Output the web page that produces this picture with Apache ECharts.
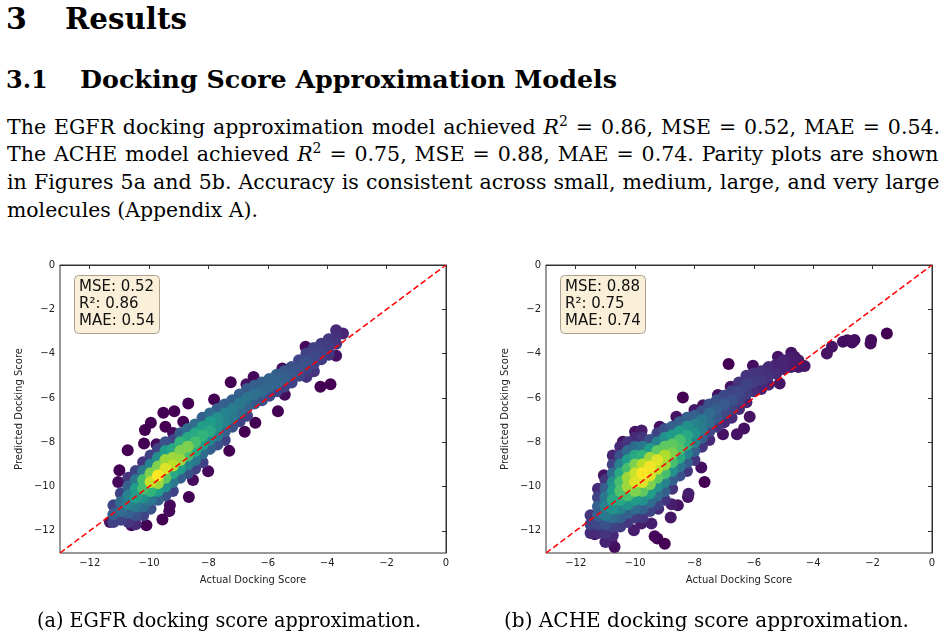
<!DOCTYPE html>
<html>
<head>
<meta charset="utf-8">
<script src="https://cdn.jsdelivr.net/npm/echarts@6/dist/echarts.min.js"></script>
<style>
  body { margin: 0; background: #fff; }
  #page { position: relative; width: 947px; height: 637px; overflow: hidden; color: #000; }
  .t { position: absolute; white-space: nowrap; font-family: "DejaVu Serif", serif; line-height: 1; transform-origin: 0 0; display: inline-block; }
  .h1 { font-size: 30px; font-weight: bold; }
  .h2 { font-size: 24px; font-weight: bold; }
  .body { font-size: 20.5px; }
  sup { font-size: 0.68em; vertical-align: 0; position: relative; top: -0.55em; line-height: 0; }
  #chart { position: absolute; left: 0; top: 240px; width: 947px; height: 370px; }
</style>
</head>
<body>
<div id="page">
  <span class="t h1" style="left:6px;top:4px">3</span>
  <span class="t h1" data-w="122" style="left:65px;top:4px">Results</span>
  <span class="t h2" style="left:6px;top:68px">3.1</span>
  <span class="t h2" data-w="537" style="left:80px;top:68px">Docking Score Approximation Models</span>

  <span class="t body" data-w="933" data-fit="justify" style="left:7px;top:117px">The EGFR docking approximation model achieved <i>R</i><sup>2</sup> = 0.86, MSE = 0.52, MAE = 0.54.</span>
  <span class="t body" data-w="933" data-fit="justify" style="left:7px;top:144px">The ACHE model achieved <i>R</i><sup>2</sup> = 0.75, MSE = 0.88, MAE = 0.74.  Parity plots are shown</span>
  <span class="t body" data-w="933" data-fit="justify" style="left:7px;top:172px">in Figures 5a and 5b.  Accuracy is consistent across small, medium, large, and very large</span>
  <span class="t body" data-w="251" style="left:7px;top:200px">molecules (Appendix A).</span>

  <div id="chart"></div>

  <span class="t body" data-w="384" style="left:37px;top:610px">(a) EGFR docking score approximation.</span>
  <span class="t body" data-w="405" style="left:504px;top:610px">(b) ACHE docking score approximation.</span>
</div>

<script>
// axis ticks shared by both parity plots
const tickValues = [-12, -10, -8, -6, -4, -2, 0];
const axisRange = [-13, 0];
const parityLine = [[-13, -13], [0, 0]];

const egfrStats = ['MSE: 0.52', 'R²: 0.86', 'MAE: 0.54'];
const acheStats = ['MSE: 0.88', 'R²: 0.75', 'MAE: 0.74'];

// [actual, predicted, density]
const egfrOutliers = [
  [-3.7, -2.95, 0.12], [-3.47, -3.09, 0.1], [-4.73, -3.69, 0.02], [-3.7, -4.1, 0.05], [-4.23, -5.5, 0],
  [-3.89, -5.38, 0], [-5.51, -4.67, 0.03], [-7.25, -5.29, 0], [-6.48, -5.06, 0.02], [-6.72, -5.38, 0.05],
  [-7.81, -6.07, 0], [-8.68, -6.25, 0], [-5.66, -6.6, 0], [-5.43, -5.86, 0.03], [-6.42, -7.12, 0],
  [-6.78, -7.53, 0], [-7.3, -8.39, 0], [-9.15, -6.6, 0], [-9.52, -6.67, 0], [-9.94, -7.12, 0],
  [-10.14, -7.45, 0], [-9.45, -7.3, 0], [-8.85, -7.08, 0], [-9.19, -7.58, 0.02], [-10.17, -8.06, 0],
  [-9.75, -8.09, 0.03], [-10.72, -8.36, 0], [-11.0, -9.26, 0], [-11.04, -9.79, 0.02], [-8.66, -10.47, 0],
  [-8.01, -9.31, 0.02], [-9.3, -10.84, 0.02], [-9.32, -11.11, 0.02], [-9.55, -11.49, 0], [-10.09, -11.75, 0],
  [-10.59, -11.75, 0.03], [-11.32, -11.6, 0.06], [-8.52, -9.71, 0.03]
];

const egfrBand = [
  [-11.2, -10.85, 0.2], [-11.2, -11.25, 0.3], [-11.2, -11.6, 0.2],
  [-10.95, -10.3, 0.2], [-10.95, -10.7, 0.35], [-10.95, -11.1, 0.35], [-10.95, -11.5, 0.2],
  [-10.7, -9.6, 0.15], [-10.7, -10.0, 0.3], [-10.7, -10.4, 0.45], [-10.7, -10.8, 0.45], [-10.7, -11.2, 0.3], [-10.7, -11.6, 0.15],
  [-10.45, -9.3, 0.2], [-10.45, -9.7, 0.4], [-10.45, -10.1, 0.55], [-10.45, -10.5, 0.55], [-10.45, -10.9, 0.4], [-10.45, -11.3, 0.25], [-10.45, -11.7, 0.12],
  [-10.2, -8.9, 0.15], [-10.2, -9.3, 0.4], [-10.2, -9.7, 0.7], [-10.2, -10.1, 0.7], [-10.2, -10.5, 0.5], [-10.2, -10.9, 0.35], [-10.2, -11.3, 0.2],
  [-9.95, -8.6, 0.2], [-9.95, -9.0, 0.45], [-9.95, -9.4, 0.8], [-9.95, -9.8, 0.92], [-9.95, -10.2, 0.65], [-9.95, -10.6, 0.4], [-9.95, -11.0, 0.25],
  [-9.7, -8.3, 0.2], [-9.7, -8.7, 0.5], [-9.7, -9.1, 0.8], [-9.7, -9.5, 1.0], [-9.7, -9.85, 0.85], [-9.7, -10.2, 0.55], [-9.7, -10.6, 0.3],
  [-9.45, -8.0, 0.25], [-9.45, -8.4, 0.55], [-9.45, -8.8, 0.85], [-9.45, -9.2, 0.95], [-9.45, -9.6, 0.75], [-9.45, -10.0, 0.5], [-9.45, -10.4, 0.25],
  [-9.2, -7.9, 0.2], [-9.2, -8.3, 0.6], [-9.2, -8.7, 0.85], [-9.2, -9.05, 0.9], [-9.2, -9.4, 0.6], [-9.2, -9.8, 0.4], [-9.2, -10.2, 0.2],
  [-8.95, -7.6, 0.3], [-8.95, -8.0, 0.65], [-8.95, -8.4, 0.8], [-8.95, -8.8, 0.85], [-8.95, -9.2, 0.55], [-8.95, -9.6, 0.3],
  [-8.7, -7.4, 0.35], [-8.7, -7.8, 0.6], [-8.7, -8.2, 0.8], [-8.7, -8.6, 0.7], [-8.7, -9.0, 0.45], [-8.7, -9.4, 0.25],
  [-8.45, -7.2, 0.35], [-8.45, -7.6, 0.6], [-8.45, -8.0, 0.7], [-8.45, -8.4, 0.6], [-8.45, -8.8, 0.4], [-8.45, -9.2, 0.2],
  [-8.2, -6.9, 0.3], [-8.2, -7.3, 0.55], [-8.2, -7.7, 0.65], [-8.2, -8.1, 0.55], [-8.2, -8.5, 0.35], [-8.2, -8.9, 0.2],
  [-7.95, -6.7, 0.35], [-7.95, -7.1, 0.55], [-7.95, -7.5, 0.6], [-7.95, -7.9, 0.45], [-7.95, -8.3, 0.3],
  [-7.7, -6.5, 0.3], [-7.7, -6.9, 0.5], [-7.7, -7.3, 0.5], [-7.7, -7.7, 0.4], [-7.7, -8.1, 0.25],
  [-7.45, -6.3, 0.3], [-7.45, -6.7, 0.45], [-7.45, -7.1, 0.45], [-7.45, -7.5, 0.3], [-7.45, -7.9, 0.2],
  [-7.2, -6.1, 0.3], [-7.2, -6.5, 0.42], [-7.2, -6.9, 0.4], [-7.2, -7.3, 0.25],
  [-6.95, -5.85, 0.3], [-6.95, -6.25, 0.4], [-6.95, -6.65, 0.35], [-6.95, -7.05, 0.2],
  [-6.7, -5.6, 0.28], [-6.7, -6.0, 0.38], [-6.7, -6.4, 0.32], [-6.7, -6.8, 0.2],
  [-6.45, -5.45, 0.3], [-6.45, -5.85, 0.36], [-6.45, -6.25, 0.28],
  [-6.2, -5.3, 0.3], [-6.2, -5.7, 0.34], [-6.2, -6.1, 0.25],
  [-5.95, -5.15, 0.32], [-5.95, -5.5, 0.33], [-5.95, -5.9, 0.22],
  [-5.7, -4.95, 0.3], [-5.7, -5.35, 0.32], [-5.7, -5.7, 0.2],
  [-5.45, -4.8, 0.28], [-5.45, -5.15, 0.3], [-5.45, -5.5, 0.2],
  [-5.2, -4.6, 0.25], [-5.2, -4.95, 0.28], [-5.2, -5.3, 0.2],
  [-4.95, -4.3, 0.22], [-4.95, -4.65, 0.26], [-4.95, -5.0, 0.22],
  [-4.7, -4.0, 0.2], [-4.7, -4.35, 0.25], [-4.7, -4.7, 0.2], [-4.7, -5.05, 0.15],
  [-4.45, -3.75, 0.2], [-4.45, -4.1, 0.22], [-4.45, -4.45, 0.2], [-4.45, -4.8, 0.15],
  [-4.2, -3.55, 0.18], [-4.2, -3.9, 0.2], [-4.2, -4.25, 0.18],
  [-3.95, -3.35, 0.16], [-3.95, -3.7, 0.18], [-3.95, -4.05, 0.15],
  [-3.7, -3.2, 0.14], [-3.7, -3.55, 0.15]
];

const acheOutliers = [
  [-1.52, -3.09, 0], [-2.05, -3.39, 0.03], [-2.07, -3.54, 0.03], [-2.61, -3.39, 0.04], [-2.69, -3.5, 0.04],
  [-2.85, -3.4, 0.04], [-3.0, -3.46, 0.04], [-3.37, -3.69, 0.05], [-3.54, -3.99, 0.05], [-4.29, -4.56, 0.06],
  [-4.63, -4.14, 0.06], [-4.74, -3.96, 0.05], [-5.19, -4.14, 0.05], [-5.13, -5.35, 0.06], [-6.03, -4.55, 0.04],
  [-6.85, -4.47, 0], [-8.39, -5.98, 0], [-7.21, -5.87, 0.04], [-6.78, -5.5, 0.05], [-5.53, -4.67, 0.08],
  [-6.21, -5.02, 0.06], [-6.14, -6.85, 0.05], [-6.33, -7.38, 0.04], [-6.57, -7.64, 0.05], [-7.04, -7.64, 0.05],
  [-7.66, -9.79, 0], [-7.77, -9.14, 0.04], [-8.22, -10.47, 0.05], [-8.56, -10.84, 0.05], [-9.0, -12.58, 0],
  [-9.25, -12.35, 0], [-9.34, -12.24, 0.02], [-10.69, -12.73, 0.04], [-10.8, -12.42, 0.05], [-11.36, -12.15, 0.05],
  [-11.05, -9.49, 0.05], [-10.41, -7.98, 0.04], [-10.0, -7.53, 0.05], [-9.17, -7.3, 0.04], [-8.61, -6.85, 0.05],
  [-8.0, -6.55, 0.06], [-7.71, -6.33, 0.05], [-9.79, -11.67, 0.08], [-9.45, -11.67, 0.08], [-10.04, -11.97, 0.08],
  [-8.77, -10.8, 0.08], [-8.8, -11.4, 0.06], [-8.2, -10.33, 0.08], [-9.22, -11.0, 0.12], [-9.78, -7.47, 0.08]
];

const acheBand = [
  [-11.5, -11.3, 0.15], [-11.5, -11.7, 0.2], [-11.5, -12.1, 0.12],
  [-11.25, -10.1, 0.12], [-11.25, -10.5, 0.2], [-11.25, -10.9, 0.3], [-11.25, -11.3, 0.3], [-11.25, -11.7, 0.22], [-11.25, -12.1, 0.12],
  [-11.0, -9.7, 0.15], [-11.0, -10.1, 0.3], [-11.0, -10.5, 0.4], [-11.0, -10.9, 0.45], [-11.0, -11.3, 0.4], [-11.0, -11.7, 0.25], [-11.0, -12.1, 0.15], [-11.0, -12.5, 0.1],
  [-10.75, -8.6, 0.1], [-10.75, -9.0, 0.2], [-10.75, -9.4, 0.35], [-10.75, -9.8, 0.5], [-10.75, -10.2, 0.55], [-10.75, -10.6, 0.6], [-10.75, -11.0, 0.5], [-10.75, -11.4, 0.35], [-10.75, -11.8, 0.2], [-10.75, -12.2, 0.12],
  [-10.5, -8.2, 0.12], [-10.5, -8.6, 0.25], [-10.5, -9.0, 0.45], [-10.5, -9.4, 0.6], [-10.5, -9.8, 0.7], [-10.5, -10.2, 0.72], [-10.5, -10.6, 0.6], [-10.5, -11.0, 0.45], [-10.5, -11.4, 0.3], [-10.5, -11.8, 0.18],
  [-10.25, -8.0, 0.15], [-10.25, -8.4, 0.35], [-10.25, -8.8, 0.55], [-10.25, -9.2, 0.7], [-10.25, -9.6, 0.85], [-10.25, -10.0, 0.85], [-10.25, -10.4, 0.7], [-10.25, -10.8, 0.5], [-10.25, -11.2, 0.3], [-10.25, -11.6, 0.15],
  [-10.0, -7.8, 0.12], [-10.0, -8.2, 0.35], [-10.0, -8.6, 0.6], [-10.0, -9.0, 0.8], [-10.0, -9.4, 0.92], [-10.0, -9.8, 0.95], [-10.0, -10.2, 0.8], [-10.0, -10.6, 0.55], [-10.0, -11.0, 0.35], [-10.0, -11.4, 0.18],
  [-9.75, -7.8, 0.15], [-9.75, -8.2, 0.4], [-9.75, -8.6, 0.65], [-9.75, -9.0, 0.9], [-9.75, -9.4, 1.0], [-9.75, -9.8, 0.95], [-9.75, -10.2, 0.75], [-9.75, -10.6, 0.5], [-9.75, -11.0, 0.3], [-9.75, -11.4, 0.15],
  [-9.5, -7.9, 0.25], [-9.5, -8.3, 0.55], [-9.5, -8.7, 0.85], [-9.5, -9.1, 0.98], [-9.5, -9.5, 0.95], [-9.5, -9.9, 0.8], [-9.5, -10.3, 0.55], [-9.5, -10.7, 0.35], [-9.5, -11.1, 0.2],
  [-9.25, -7.6, 0.2], [-9.25, -8.0, 0.45], [-9.25, -8.4, 0.75], [-9.25, -8.8, 0.95], [-9.25, -9.2, 0.9], [-9.25, -9.6, 0.75], [-9.25, -10.0, 0.5], [-9.25, -10.4, 0.35], [-9.25, -10.8, 0.2],
  [-9.0, -7.4, 0.25], [-9.0, -7.8, 0.5], [-9.0, -8.2, 0.75], [-9.0, -8.6, 0.88], [-9.0, -9.0, 0.85], [-9.0, -9.4, 0.7], [-9.0, -9.8, 0.45], [-9.0, -10.2, 0.3], [-9.0, -10.6, 0.15],
  [-8.75, -7.3, 0.3], [-8.75, -7.7, 0.55], [-8.75, -8.1, 0.75], [-8.75, -8.5, 0.8], [-8.75, -8.9, 0.7], [-8.75, -9.3, 0.5], [-8.75, -9.7, 0.3], [-8.75, -10.1, 0.15],
  [-8.5, -7.1, 0.3], [-8.5, -7.5, 0.55], [-8.5, -7.9, 0.7], [-8.5, -8.3, 0.72], [-8.5, -8.7, 0.6], [-8.5, -9.1, 0.4], [-8.5, -9.5, 0.25],
  [-8.25, -6.9, 0.3], [-8.25, -7.3, 0.5], [-8.25, -7.7, 0.6], [-8.25, -8.1, 0.62], [-8.25, -8.5, 0.45], [-8.25, -8.9, 0.3], [-8.25, -9.3, 0.15],
  [-8.0, -6.8, 0.3], [-8.0, -7.2, 0.45], [-8.0, -7.6, 0.5], [-8.0, -8.0, 0.45], [-8.0, -8.4, 0.3], [-8.0, -8.8, 0.15],
  [-7.75, -6.6, 0.25], [-7.75, -7.0, 0.4], [-7.75, -7.4, 0.42], [-7.75, -7.8, 0.3], [-7.75, -8.2, 0.15],
  [-7.5, -6.3, 0.25], [-7.5, -6.7, 0.35], [-7.5, -7.1, 0.35], [-7.5, -7.5, 0.22], [-7.5, -7.9, 0.12],
  [-7.25, -6.1, 0.25], [-7.25, -6.5, 0.3], [-7.25, -6.9, 0.28], [-7.25, -7.3, 0.15],
  [-7.0, -5.9, 0.22], [-7.0, -6.3, 0.28], [-7.0, -6.7, 0.22], [-7.0, -7.1, 0.12],
  [-6.75, -5.7, 0.2], [-6.75, -6.1, 0.25], [-6.75, -6.5, 0.2], [-6.75, -6.9, 0.12],
  [-6.5, -5.3, 0.15], [-6.5, -5.7, 0.22], [-6.5, -6.1, 0.2], [-6.5, -6.5, 0.12],
  [-6.25, -5.0, 0.15], [-6.25, -5.4, 0.2], [-6.25, -5.8, 0.18], [-6.25, -6.2, 0.1],
  [-6.0, -4.9, 0.15], [-6.0, -5.3, 0.18], [-6.0, -5.7, 0.12],
  [-5.75, -4.8, 0.14], [-5.75, -5.2, 0.16], [-5.75, -5.6, 0.1],
  [-5.5, -4.6, 0.12], [-5.5, -5.0, 0.14], [-5.5, -5.4, 0.1],
  [-5.25, -4.5, 0.1], [-5.25, -4.9, 0.12],
  [-5.0, -4.3, 0.1], [-5.0, -4.7, 0.1],
  [-4.75, -4.2, 0.08], [-4.75, -4.6, 0.08],
  [-4.5, -4.3, 0.07], [-4.5, -4.6, 0.06]
];

const viridis = ['#440154', '#482878', '#3e4989', '#31688e', '#26828e', '#1f9e89', '#35b779', '#6ece58', '#b5de2b', '#fde725'];

// stretch/justify the text lines to the widths in the page
document.querySelectorAll('.t[data-w]').forEach(function (el) {
  const target = +el.dataset.w;
  const w = el.getBoundingClientRect().width;
  const n = (el.textContent.match(/ /g) || []).length;
  const ws = (target - w) / Math.max(n, 1);
  if (el.dataset.fit === 'justify' && ws > -2) {
    el.style.wordSpacing = ws + 'px';
  } else {
    el.style.transform = 'scaleX(' + (target / w) + ')';
  }
});

function byDensity(a, b) { return a[2] - b[2]; }
const egfrPoints = egfrOutliers.concat(egfrBand).sort(byDensity);
const achePoints = acheOutliers.concat(acheBand).sort(byDensity);

const minus = v => String(v).replace('-', '\u2212');

function xAxisFor(i) {
  return {
    type: 'value', gridIndex: i, min: axisRange[0], max: axisRange[1],
    name: 'Actual Docking Score', nameLocation: 'middle', nameGap: 22,
    nameTextStyle: { fontSize: 10, color: '#222' },
    axisLine: { show: true, lineStyle: { color: '#333', width: 1 } },
    axisTick: { show: true, length: 4, customValues: tickValues, lineStyle: { color: '#333' } },
    axisLabel: { customValues: tickValues, fontSize: 10, color: '#222', margin: 5, formatter: minus },
    splitLine: { show: false }
  };
}
function yAxisFor(i) {
  return {
    type: 'value', gridIndex: i, min: axisRange[0], max: axisRange[1],
    name: 'Predicted Docking Score', nameLocation: 'middle', nameGap: 36,
    nameTextStyle: { fontSize: 10, color: '#222' },
    axisLine: { show: true, lineStyle: { color: '#333', width: 1 } },
    axisTick: { show: true, length: 4, customValues: tickValues, lineStyle: { color: '#333' } },
    axisLabel: { customValues: tickValues, fontSize: 10, color: '#222', margin: 5, formatter: minus },
    splitLine: { show: false }
  };
}
function statsBox(lines, left) {
  return {
    text: lines.join('\n'), left: left, top: 35,
    backgroundColor: '#faefd9', borderColor: '#aaa292', borderWidth: 1, borderRadius: 4,
    padding: [4, 5, 4, 5],
    textStyle: { fontFamily: 'DejaVu Sans', fontSize: 15, lineHeight: 17, fontWeight: 'normal', color: '#111' }
  };
}
function parity(i) {
  return {
    type: 'line', xAxisIndex: i, yAxisIndex: i, data: parityLine, symbol: 'none', z: 5,
    lineStyle: { color: '#ff0000', width: 1.5, type: [6, 3] }
  };
}

const myChart = echarts.init(document.getElementById('chart'), null, { renderer: 'canvas' });
const option = {
  animation: false,
  textStyle: { fontFamily: 'DejaVu Sans' },
  title: [statsBox(egfrStats, 74), statsBox(acheStats, 560)],
  grid: [
    { left: 60, top: 25, width: 386, height: 288, show: true, borderColor: '#333', borderWidth: 1 },
    { left: 546, top: 25, width: 386, height: 288, show: true, borderColor: '#333', borderWidth: 1 }
  ],
  xAxis: [xAxisFor(0), xAxisFor(1)],
  yAxis: [yAxisFor(0), yAxisFor(1)],
  visualMap: {
    type: 'continuous', show: false, dimension: 2, min: 0, max: 1,
    seriesIndex: [0, 2], inRange: { color: viridis }
  },
  series: [
    { type: 'scatter', xAxisIndex: 0, yAxisIndex: 0, data: egfrPoints, symbolSize: 12, silent: true, itemStyle: { opacity: 1 } },
    parity(0),
    { type: 'scatter', xAxisIndex: 1, yAxisIndex: 1, data: achePoints, symbolSize: 12, silent: true, itemStyle: { opacity: 1 } },
    parity(1)
  ]
};
myChart.setOption(option);
window.addEventListener('resize', function () { myChart.resize(); });
</script>
</body>
</html>
